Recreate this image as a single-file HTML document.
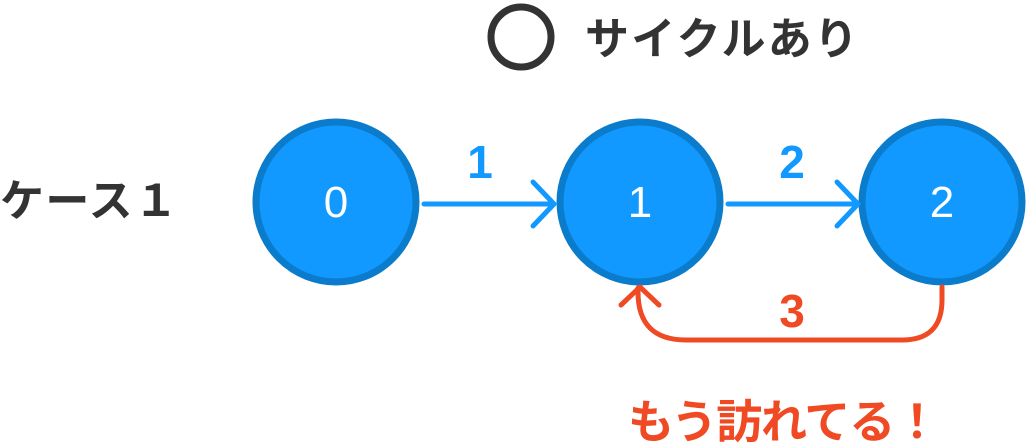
<!DOCTYPE html>
<html><head><meta charset="utf-8"><style>
body{margin:0;background:#fff;width:1027px;height:443px;overflow:hidden}
text{font-family:"Liberation Sans","Noto Sans CJK JP",sans-serif;font-weight:bold}
</style></head><body>
<svg width="1027" height="443" viewBox="0 0 1027 443" xmlns="http://www.w3.org/2000/svg">
<circle cx="521" cy="37" r="30" fill="none" stroke="#333" stroke-width="7"/>
<text x="585" y="54" font-size="44" fill="#333" textLength="273">サイクルあり</text>
<text x="0" y="216" font-size="44" fill="#333" textLength="178">ケース１</text>
<g fill="#1199ff" stroke="#0b7bcc" stroke-width="7">
<circle cx="336" cy="202" r="80"/>
<circle cx="640" cy="202" r="80"/>
<circle cx="942" cy="202" r="80"/>
</g>
<g font-size="44" fill="#fff" text-anchor="middle">
<text x="336" y="217" style="font-weight:normal">0</text>
<text x="640" y="217" style="font-weight:normal">1</text>
<text x="942" y="217" style="font-weight:normal">2</text>
</g>
<g fill="none" stroke="#1199ff" stroke-width="5" stroke-linecap="round" stroke-linejoin="round">
<path d="M424 204H554M533 182L554 204L533 226"/>
<path d="M728 204H858M837 182L858 204L837 226"/>
</g>
<text x="480" y="178" font-size="46" fill="#1199ff" text-anchor="middle">1</text>
<text x="792" y="178" font-size="46" fill="#1199ff" text-anchor="middle">2</text>
<g fill="none" stroke="#f04a24" stroke-width="5" stroke-linecap="round" stroke-linejoin="round">
<path d="M942 287V300Q942 340 902 340H686Q638 340 638 292V288"/>
<path d="M621 305L640 287L659 305"/>
</g>
<text x="792" y="327" font-size="46" fill="#f04a24" text-anchor="middle">3</text>
<text x="628" y="438" font-size="46" fill="#f04a24" textLength="312">もう訪れてる！</text>
</svg>
</body></html>
